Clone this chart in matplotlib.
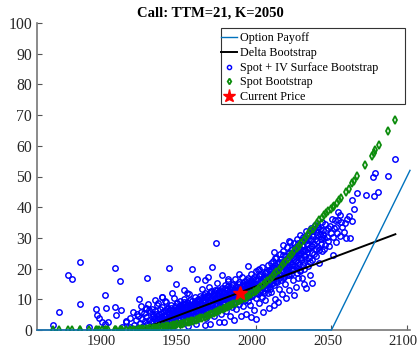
import numpy as np
import matplotlib
matplotlib.use('Agg')
import matplotlib.pyplot as plt
from matplotlib.patches import Rectangle
from matplotlib.transforms import ScaledTranslation

plt.rcParams['font.family'] = ['Liberation Serif', 'DejaVu Serif']

# option payoff and delta approximation
payoff_x = [1855, 2050, 2102]
payoff_y = [0, 0, 52]
delta_x = [1924.5, 2092.3]
delta_y = [0.3, 31.2]
spot_now = 1989.4
price_now = 11.95

# spot + IV surface bootstrap (blue circles)
blue_pts = [
    # far left outliers
    (1865.7,1.6),(1869.4,5.8),(1875.4,18.0),(1878.1,16.5),(1883.3,22.0),(1883.7,8.4),(1889.5,1.1),
    (1893.9,6.9),(1894.8,5.0),(1895.9,3.8),(1898.1,2.7),(1900.3,11.3),(1901.0,7.1),(1900.3,2.0),
    (1901.8,2.7),(1906.4,20.3),(1906.9,7.6),(1907.5,4.9),(1910.2,16.1),(1910.4,6.5),(1911.3,1.1),
    (1914.1,2.7),(1916.3,3.8),(1916.8,1.1),(1918.6,6.0),(1922.7,10.0),(1927.8,16.8),(1927.3,7.3),
    (1928.9,6.5),(1933.3,9.8),(1937.7,10.9),(1942.1,20.3),(1947.2,15.0),(1952.4,13.0),(1954.6,12.2),
    (1944.5,11.9),(1940.0,9.4),(1921.1,5.2),(1923.8,6.0),(1926.9,6.8),(1914.1,2.8),(1935.3,8.9),
    (1947.6,8.7),(1937.5,10.7),
    # 1918 - 1932
    (1919.2,1.5),(1920.5,3.1),(1921.4,0.8),(1922.0,4.4),(1923.1,2.2),(1924.0,7.9),(1924.6,3.6),
    (1925.3,1.2),(1925.9,5.5),(1926.5,2.8),(1927.2,4.1),(1928.0,1.9),(1928.6,8.6),(1929.1,3.3),
    (1929.8,5.9),(1930.3,2.4),(1930.9,7.0),(1931.5,4.6),(1931.9,1.4),(1932.6,3.8),
    # 1932 - 1945
    (1933.0,6.2),(1933.5,2.9),(1934.1,5.1),(1934.6,8.1),(1935.0,3.5),(1935.4,4.7),(1935.9,1.8),
    (1936.3,6.8),(1936.8,3.0),(1937.2,5.6),(1937.6,4.2),(1938.1,7.5),(1938.5,2.6),(1938.9,5.0),
    (1939.4,3.7),(1939.8,6.4),(1940.2,9.1),(1940.6,4.5),(1941.0,2.3),(1941.4,5.8),(1941.8,7.2),
    (1942.2,3.4),(1942.6,4.9),(1943.0,6.6),(1943.4,1.7),(1943.8,8.3),(1944.2,5.3),(1944.6,3.9),
    (1945.0,6.0),(1945.4,10.4),
    (1931.2,2.9),(1932.1,5.3),(1933.8,4.0),(1934.3,2.2),(1936.0,5.2),(1937.0,3.6),(1938.3,6.0),
    (1939.1,4.5),(1939.6,2.0),(1940.9,6.7),(1941.6,3.8),(1942.4,5.6),(1943.2,4.2),(1943.6,7.1),
    (1944.4,2.8),(1944.8,6.5),(1945.6,5.2),(1946.4,3.3),(1946.9,6.2),(1947.5,4.5),(1948.0,7.0),
    # 1945 - 1961
    (1945.8,4.4),(1946.2,7.7),(1946.6,2.7),(1947.0,5.7),(1947.4,8.9),(1947.8,6.3),(1948.2,3.6),
    (1948.6,7.1),(1949.0,4.8),(1949.4,9.6),(1949.8,5.9),(1950.2,2.1),(1950.6,7.4),(1951.0,6.5),
    (1951.4,4.0),(1951.8,8.4),(1952.2,5.2),(1952.6,10.2),(1953.0,6.9),(1953.4,3.1),(1953.8,7.8),
    (1954.2,5.5),(1954.6,9.0),(1955.0,4.3),(1955.4,6.7),(1955.8,11.6),(1956.2,8.0),(1956.6,5.0),
    (1957.0,7.3),(1957.4,2.8),(1957.8,9.4),(1958.2,6.1),(1958.6,4.6),(1959.0,8.7),(1959.4,7.0),
    (1959.8,10.8),(1960.2,5.8),(1960.6,3.4),(1961.0,8.2),(1961.4,6.6),
    (1948.4,5.2),(1948.9,7.9),(1949.3,6.4),(1949.7,3.9),(1950.1,8.3),(1950.5,5.6),(1950.9,7.1),
    (1951.3,4.7),(1951.7,6.1),(1952.1,9.2),(1952.5,6.8),(1952.9,4.4),(1953.3,8.6),(1953.7,5.9),
    (1954.1,7.4),(1954.5,4.9),(1954.9,6.3),(1955.3,8.9),(1955.7,5.4),(1956.1,7.0),(1956.5,9.7),
    (1956.9,6.0),(1957.3,4.1),(1957.7,7.7),(1958.1,8.4),(1958.5,5.7),(1958.9,6.9),(1959.3,9.3),
    (1959.7,4.8),(1960.1,7.6),
    # 1961 - 1977
    (1961.8,9.9),(1962.2,7.5),(1962.6,4.9),(1963.0,11.2),(1963.4,8.8),(1963.8,6.2),(1964.2,13.4),
    (1964.6,9.5),(1965.0,5.3),(1965.4,7.9),(1965.8,10.6),(1966.2,12.2),(1966.6,3.9),(1967.0,8.5),
    (1967.4,6.8),(1967.8,11.0),(1968.2,9.2),(1968.6,14.1),(1969.0,7.2),(1969.4,5.6),(1969.8,10.1),
    (1970.2,12.7),(1970.6,8.0),(1971.0,6.0),(1971.4,9.8),(1971.8,11.7),(1972.2,4.7),(1972.6,13.0),
    (1973.0,8.9),(1973.4,7.0),(1973.8,10.5),(1974.2,15.2),(1974.6,9.3),(1975.0,6.4),(1975.4,11.9),
    (1975.8,12.8),(1976.2,8.1),(1976.6,10.0),(1977.0,5.2),(1977.4,13.7),
    (1960.5,8.8),(1960.9,6.2),(1961.3,10.1),(1961.7,5.5),(1962.1,8.0),(1962.5,9.4),(1962.9,6.6),
    (1963.3,7.3),(1963.7,10.5),(1964.1,5.8),(1964.5,8.4),(1964.9,9.9),(1965.3,6.9),(1965.7,11.3),
    (1966.1,7.7),(1966.5,9.1),(1966.9,5.9),(1967.3,10.3),(1967.7,8.2),(1968.1,6.4),(1968.5,11.5),
    (1968.9,9.0),(1969.3,7.6),(1969.7,12.0),(1970.1,6.8),(1970.5,10.4),(1970.9,8.6),(1971.3,11.0),
    (1971.7,7.3),(1972.1,9.5),(1972.5,12.3),(1972.9,10.0),(1973.3,7.9),(1973.7,11.6),(1974.1,8.4),
    (1974.5,12.9),(1974.9,10.2),(1975.3,7.0),
    # 1977 - 1993
    (1977.8,11.3),(1978.2,9.0),(1978.6,7.6),(1979.0,12.4),(1979.4,14.6),(1979.8,10.3),(1980.2,6.1),
    (1980.6,13.1),(1981.0,11.0),(1981.4,8.7),(1981.8,15.8),(1982.2,12.0),(1982.6,9.7),(1983.0,4.6),
    (1983.4,13.9),(1983.8,10.8),(1984.2,7.4),(1984.6,12.6),(1985.0,14.9),(1985.4,11.5),(1985.8,9.1),
    (1986.2,16.5),(1986.6,12.9),(1987.0,6.9),(1987.4,10.6),(1987.8,14.0),(1988.2,12.3),(1988.6,8.4),
    (1989.0,15.5),(1989.4,11.1),(1989.8,13.3),(1990.2,9.9),(1990.6,17.4),(1991.0,12.0),(1991.4,7.8),
    (1991.8,14.4),(1992.2,10.7),(1992.6,16.1),(1993.0,13.0),(1993.4,5.3),
    (1975.7,11.1),(1976.1,9.4),(1976.5,13.0),(1976.9,7.6),(1977.3,10.7),(1977.7,12.6),(1978.1,8.5),
    (1978.5,11.8),(1978.9,10.1),(1979.3,13.6),(1979.7,8.9),(1980.1,11.4),(1980.5,12.9),(1980.9,9.6),
    (1981.3,14.2),(1981.7,10.5),(1982.1,8.2),(1982.5,13.4),(1982.9,11.2),(1983.3,9.4),(1983.7,12.2),
    (1984.1,14.7),(1984.5,10.1),(1984.9,11.9),(1985.3,13.1),(1985.7,8.8),(1986.1,12.0),(1986.5,14.3),
    (1986.9,10.4),(1987.3,13.0),(1987.7,11.5),(1988.1,9.5),(1988.5,14.9),(1988.9,12.5),(1989.3,10.0),
    (1989.7,13.8),
    # 1993 - 2009
    (1993.8,11.8),(1994.2,14.8),(1994.6,9.4),(1995.0,17.0),(1995.4,12.5),(1995.8,15.6),(1996.2,8.2),
    (1996.6,13.6),(1997.0,18.3),(1997.4,11.2),(1997.8,14.2),(1998.2,16.7),(1998.6,6.6),(1999.0,12.8),
    (1999.4,15.0),(1999.8,10.4),(2000.2,19.2),(2000.6,13.8),(2001.0,16.3),(2001.4,11.6),(2001.8,14.7),
    (2002.2,8.9),(2002.6,17.8),(2003.0,13.1),(2003.4,15.9),(2003.8,10.9),(2004.2,20.4),(2004.6,14.3),
    (2005.0,12.2),(2005.4,17.3),(2005.8,15.3),(2006.2,9.8),(2006.6,18.8),(2007.0,13.7),(2007.4,16.0),
    (2007.8,11.9),(2008.2,21.3),(2008.6,15.2),(2009.0,17.6),(2009.4,13.4),
    (1990.1,11.7),(1990.5,14.6),(1990.9,10.6),(1991.3,12.8),(1991.7,15.4),(1992.1,11.3),(1992.5,13.7),
    (1992.9,9.8),(1993.3,14.9),(1993.7,12.6),(1994.1,16.3),(1994.5,11.0),(1994.9,13.9),(1995.3,15.1),
    (1995.7,10.7),(1996.1,14.4),(1996.5,12.1),(1996.9,16.4),(1997.3,13.3),(1997.7,11.5),(1998.1,15.3),
    (1998.5,13.9),(1998.9,17.4),(1999.3,12.0),(1999.7,14.9),(2000.1,16.5),(2000.5,11.9),(2000.9,15.0),
    (2001.3,13.4),(2001.7,17.6),(2002.1,14.2),(2002.5,12.5),(2002.9,16.1),(2003.3,18.3),(2003.7,13.9),
    (2004.1,15.6),(2004.5,17.1),(2004.9,12.8),
    # 2009 - 2024
    (2009.8,19.6),(2010.2,12.4),(2010.6,16.9),(2011.0,22.6),(2011.4,18.1),(2011.8,14.5),(2012.2,20.2),
    (2012.6,10.2),(2013.0,17.7),(2013.4,23.4),(2013.8,19.0),(2014.2,15.6),(2014.6,21.5),(2015.0,13.3),
    (2015.4,18.7),(2015.8,24.8),(2016.2,20.6),(2016.6,16.4),(2017.0,22.0),(2017.4,11.7),(2017.8,19.4),
    (2018.2,25.6),(2018.6,17.2),(2019.0,21.9),(2019.4,14.9),(2019.8,23.1),(2020.2,19.9),(2020.6,27.0),
    (2021.0,17.9),(2021.4,22.8),(2021.8,12.9),(2022.2,20.7),(2022.6,24.3),(2023.0,18.4),(2023.4,26.2),
    (2023.8,21.2),
    (2005.3,16.2),(2005.7,18.6),(2006.1,14.6),(2006.5,16.8),(2006.9,13.3),(2007.3,19.1),(2007.7,15.5),
    (2008.1,17.4),(2008.5,13.9),(2008.9,19.5),(2009.3,16.1),(2009.7,18.1),(2010.1,14.9),(2010.5,20.4),
    (2010.9,17.0),(2011.3,15.3),(2011.7,19.0),(2012.1,16.6),(2012.5,21.1),(2012.9,18.4),(2013.3,15.8),
    (2013.7,20.6),(2014.1,17.6),(2014.5,19.8),(2014.9,16.5),(2015.3,22.1),(2015.7,18.3),(2016.1,20.9),
    (2016.5,17.8),(2016.9,23.0),(2017.3,19.3),(2017.7,21.3),(2018.1,16.9),(2018.5,22.5),(2018.9,20.0),
    (2019.3,18.0),(2019.7,24.0),(2020.1,21.2),
    # 2024 - 2046
    (2024.2,16.2),(2024.6,23.8),(2025.0,28.4),(2025.4,20.0),(2025.8,25.1),(2026.2,14.0),(2026.6,22.4),
    (2027.0,29.6),(2027.4,18.6),(2027.8,24.6),(2028.2,26.9),(2028.6,21.6),(2029.0,31.0),(2029.4,19.3),
    (2029.8,23.7),(2030.2,27.8),(2030.6,16.8),(2031.0,25.9),(2031.4,30.2),(2031.8,22.1),(2032.2,28.9),
    (2032.6,24.0),(2033.0,13.8),(2033.4,32.4),(2033.8,26.5),(2034.2,20.9),(2034.6,29.2),(2035.0,23.4),
    (2035.4,31.6),(2035.8,18.0),(2036.2,27.3),(2036.6,33.3),(2037.0,25.0),(2037.4,22.7),(2038.0,30.6),
    (2038.6,28.1),(2039.2,34.1),(2039.8,24.2),(2040.4,31.9),(2041.0,27.0),(2041.6,21.9),(2042.2,33.0),
    (2042.8,29.5),(2043.4,25.6),(2044.0,35.2),(2044.6,30.9),(2045.4,27.7),(2046.2,32.6),
    (2020.5,18.8),(2020.9,22.9),(2021.3,20.1),(2021.7,25.0),(2022.1,17.9),(2022.5,22.0),(2022.9,19.8),
    (2023.3,24.1),(2023.7,21.5),(2024.1,26.3),(2024.5,19.4),(2024.9,23.2),(2025.3,25.4),(2025.7,21.0),
    (2026.1,27.0),(2026.5,23.7),(2026.9,20.3),(2027.3,25.8),(2027.7,22.3),(2028.1,28.2),(2028.5,24.4),
    (2028.9,19.7),(2029.3,26.4),(2029.7,22.8),(2030.1,25.0),(2030.5,29.4),(2030.9,21.3),(2031.3,27.4),
    (2031.7,24.5),(2032.1,20.0),(2032.5,26.2),(2032.9,29.9),(2033.3,23.0),(2033.7,27.9),(2034.1,25.3),
    (2034.7,31.0),(2035.3,26.8),(2035.9,22.2),(2036.5,29.5),(2037.1,27.2),(2037.7,32.3),(2038.3,24.8),
    (2038.9,29.8),(2039.5,26.3),(2040.1,31.0),(2040.7,29.1),(2041.3,33.6),(2042.0,26.2),(2042.6,31.4),
    (2043.2,28.0),(2044.3,32.6),(2045.0,29.9),(2045.8,34.5),(2046.8,30.2),(2047.6,33.1),(2048.4,27.5),
    (2049.5,31.6),(2050.3,36.3),(2051.6,33.2),(2052.8,28.6),(2053.1,33.7),(2056.2,35.3),(2058.2,31.9),
    (2059.0,34.7),(2060.5,36.2),(2062.0,30.0),
    # scattered above / below the cloud
    (1957.9,19.9),(1961.0,16.7),(1966.3,16.3),(1968.5,17.2),(1970.7,20.4),(1973.5,28.3),(1977.3,17.8),
    (1981.3,16.6),(1988.8,18.2),(1994.9,20.9),(2001.1,19.5),(2002.2,20.0),(2009.7,21.7),(2011.9,25.5),
    (2012.4,23.4),(2017.6,24.4),(2018.0,27.7),(2021.8,29.1),(2022.5,28.8),(2038.5,32.8),(2040.1,33.5),
    (2043.4,30.4),(2045.1,26.3),(2027.9,16.8),(2031.5,15.0),(2036.8,15.2),(2014.7,9.2),(1969.6,2.0),
    (1966.3,1.5),(1979.1,2.7),(1996.7,4.1),(1985.6,3.2),(1990.4,4.5),(2000.3,3.6),(2004.9,5.9),
    (2008.3,7.3),(2012.0,8.0),(2019.6,10.3),(2024.9,11.5),(1975.2,2.6),(1960.5,1.9),(1955.2,1.3),
    (1945.3,0.9),(1940.3,0.7),
    # right tail
    (2047.5,29.0),(2049.0,33.9),(2051.0,30.4),(2051.0,24.4),(2052.2,35.8),(2053.7,31.5),(2054.4,35.8),
    (2054.4,38.5),(2055.5,30.6),(2055.8,37.6),(2057.0,33.5),(2059.9,29.9),(2061.6,37.1),(2063.9,35.5),
    (2064.8,39.5),(2063.9,42.3),(2067.2,44.5),(2072.7,44.0),(2078.4,43.8),(2080.8,45.0),(2077.5,49.9),
    (2078.8,51.0),(2087.4,50.2),(2091.8,55.6),
]

# spot bootstrap (green diamonds)
green_pts = [
    (1865.7,0),(1869.4,0),(1875.4,0),(1878.1,0),(1883.3,0),(1883.7,0),(1889.5,0),(1893.9,0),
    (1894.8,0),(1895.9,0),(1898.1,0),(1900.3,0),(1901.0,0),(1901.8,0),(1906.4,0),(1906.9,0),
    (1907.5,0),(1910.2,0),(1910.4,0),(1911.3,0),(1914.1,0),(1916.3,0),(1916.8,0),(1918.6,0),
    (1919.5,0.1),(1921.0,0.15),(1922.5,0.2),(1924.0,0.25),(1925.5,0.3),(1927.0,0.4),(1928.5,0.45),
    (1930.0,0.5),(1931.5,0.6),(1933.0,0.7),(1934.5,0.8),(1936.0,0.9),(1937.5,1.0),(1939.0,1.05),
    (1940.5,1.15),(1942.0,1.3),(1943.5,1.4),(1945.0,1.5),(1946.5,1.65),(1948.0,1.8),(1949.5,1.95),
    (1951.0,2.1),(1952.5,2.3),(1954.0,2.45),(1955.5,2.65),(1957.0,2.85),(1958.5,3.05),(1960.0,3.3),
    (1961.5,3.5),(1963.0,3.75),(1964.5,4.0),(1966.0,4.25),(1967.5,4.55),(1969.0,4.85),(1970.5,5.2),
    (1972.0,5.5),(1973.5,5.85),(1975.0,6.2),(1976.5,6.55),(1978.0,6.9),(1979.5,7.3),(1980.5,7.5),
    (1982.0,7.85),(1983.5,8.2),(1985.0,8.6),(1986.5,8.95),(1988.0,9.35),(1989.5,9.7),(1991.0,10.1),
    (1992.5,10.5),(1994.0,10.9),(1995.5,11.35),(1997.0,11.8),(1998.5,12.25),(2000.0,12.7),
    (2001.5,13.3),(2003.0,13.9),(2004.5,14.55),(2006.0,15.2),(2007.5,15.9),(2009.0,16.6),
    (2010.5,17.35),(2012.0,18.1),(2013.5,18.9),(2015.0,19.7),(2016.5,20.5),(2018.0,21.35),
    (2019.5,22.2),(2021.0,23.1),(2022.5,24.0),(2024.0,24.85),(2025.5,25.7),(2027.0,26.6),
    (2028.5,27.5),(2030.0,28.4),(2031.5,29.35),(2033.0,30.3),(2034.5,31.2),(2036.0,32.1),
    (2037.5,33.05),(2039.0,33.95),(2040.5,34.85),(2042.0,35.7),(2043.5,36.55),(2045.0,37.35),
    (2046.5,38.1),(2048.0,38.8),(2049.5,39.4),(2051.0,40.0),(2052.0,40.5),
    (2053.7,41.3),(2055.0,42.2),(2056.3,43.0),(2059.9,45.0),(2061.4,46.0),(2063.9,47.8),(2064.9,48.5),
    (2066.9,50.2),(2072.1,53.7),(2076.6,56.7),(2077.9,57.8),(2078.8,58.5),(2081.5,60.3),(2087.4,64.8),
    (2091.8,68.4),
]

blue_x, blue_y = zip(*blue_pts)
green_x, green_y = zip(*green_pts)

fig = plt.figure(figsize=(4.17, 3.5), dpi=100)
ax = fig.add_axes([37/417, 20/350, 373/417, 307/350])

ax.plot(payoff_x, payoff_y, color='#0072BD', lw=1.0, label='Option Payoff', clip_on=False, zorder=5)
ax.plot(delta_x, delta_y, color='k', lw=1.4, label='Delta Bootstrap', zorder=3)
ax.plot(blue_x, blue_y, 'o', ls='none', mfc='none', mec='b', ms=3.9, mew=1.05,
        label='Spot + IV Surface Bootstrap', zorder=2)
ax.plot(green_x, green_y, 'd', ls='none', mfc='none', mec='#0c8c0c', ms=4.2, mew=1.3,
        label='Spot Bootstrap', zorder=4)
ax.plot([spot_now], [price_now], '*', color='r', ms=10, label='Current Price', zorder=6)

ax.set_xlim(1855, 2102)
ax.set_ylim(0, 100)
ax.set_xticks([1900, 1950, 2000, 2050, 2100])
ax.set_yticks(np.arange(0, 101, 10))
ax.tick_params(direction='in', length=3.5, color='#555555', labelcolor='#262626')
ax.tick_params(axis='x', labelsize=10.5)
ax.tick_params(axis='y', labelsize=11.3)
# MATLAB-style x labels sit a few pixels left of their ticks
shift = ScaledTranslation(-4/100, 0, fig.dpi_scale_trans)
for lab in ax.get_xticklabels():
    lab.set_transform(lab.get_transform() + shift)
for s in ['top', 'right']:
    ax.spines[s].set_visible(False)
for s in ['left', 'bottom']:
    ax.spines[s].set_color('#777777')
    ax.spines[s].set_linewidth(1.2)

# legend box drawn by hand (MATLAB leaves space on the right)
fig.patches.append(Rectangle((220.5/417, 1 - 104/350), 184.5/417, 75.5/350, transform=fig.transFigure,
                             fill=True, facecolor='white', edgecolor='#333333', lw=0.8, zorder=9))
leg = fig.legend(*ax.get_legend_handles_labels(), loc='upper left',
                 bbox_to_anchor=(221/417, 1 - 32.5/350), bbox_transform=fig.transFigure,
                 frameon=False, fontsize=8.7, borderpad=0, borderaxespad=0,
                 handlelength=1.35, handletextpad=0.25, labelspacing=0.22)
leg.set_zorder(10)
for h, size in zip(leg.legend_handles, [0, 0, 3.0, 3.0, 9.5]):
    if size:
        h.set_markersize(size)

fig.text(210/417, 1 - 13/350, 'Call: TTM=21, K=2050', ha='center', va='center',
         fontsize=10.5, fontweight='bold')

plt.savefig('out.png', dpi=100)
plt.close()
